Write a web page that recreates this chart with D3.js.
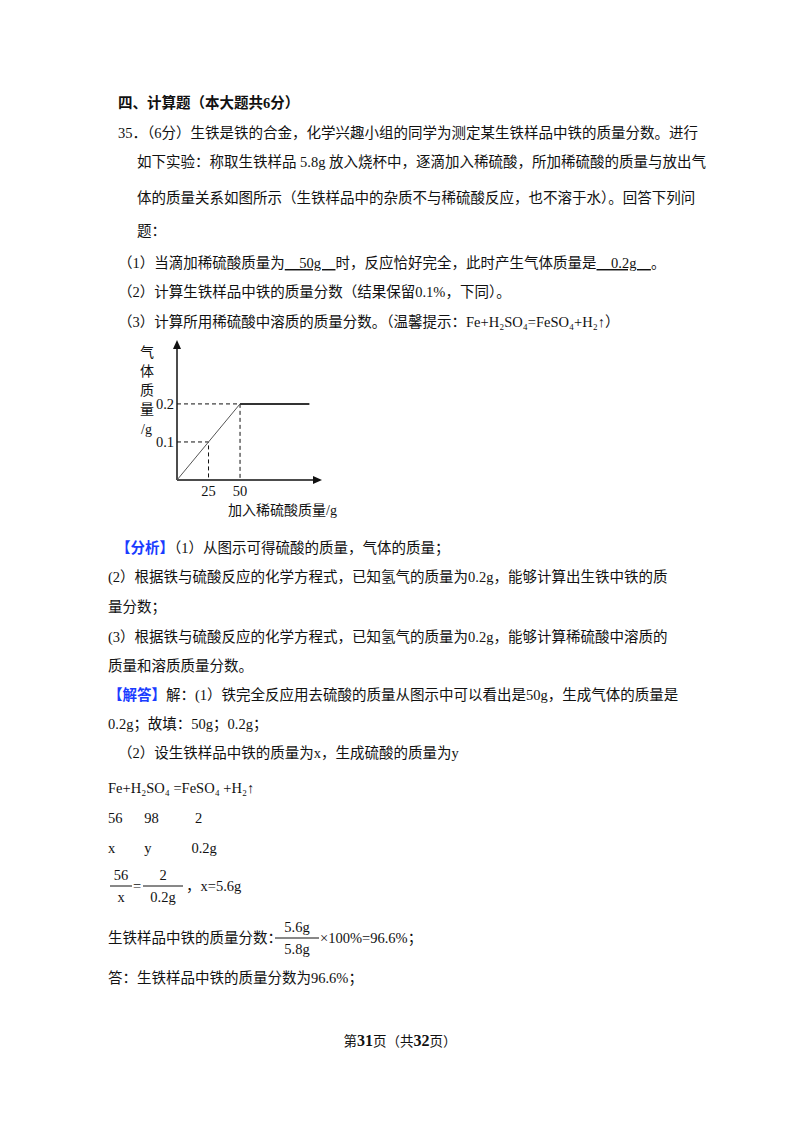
<!DOCTYPE html>
<html><head><meta charset="utf-8">
<script src="https://cdn.jsdelivr.net/npm/d3@7"></script>
<style>body{margin:0;background:#fff}text{font-family:"Liberation Serif","Noto Sans CJK SC",serif;fill:#111}</style>
</head><body>
<script>
// chart data
var points = [[0,0],[25,0.1],[50,0.2],[105,0.2]];
var xTicks = [25, 50];
var yTicks = [0.1, 0.2];

var svg = d3.select('body').append('svg').attr('width', 800).attr('height', 1132);

// page text: [x, y, text, options]
var lines = [
  [118,108,'四、计算题（本大题共6分）',{bold:true}],
  [118,138,'35．（6分）生铁是铁的合金，化学兴趣小组的同学为测定某生铁样品中铁的质量分数。进行'],
  [137,167,'如下实验：称取生铁样品 5.8g 放入烧杯中，逐滴加入稀硫酸，所加稀硫酸的质量与放出气'],
  [137,203,'体的质量关系如图所示（生铁样品中的杂质不与稀硫酸反应，也不溶于水）。回答下列问'],
  [137,236,'题：'],
  [118,268,'（1）当滴加稀硫酸质量为__50g__时，反应恰好完全，此时产生气体质量是__0.2g__。'],
  [118,297,'（2）计算生铁样品中铁的质量分数（结果保留0.1%，下同）。'],
  [118,327,'（3）计算所用稀硫酸中溶质的质量分数。（温馨提示：Fe+H₂SO₄=FeSO₄+H₂↑）'],
  [116,553,'【分析】（1）从图示可得硫酸的质量，气体的质量；',{tag:'【分析】'}],
  [108,582,'(2）根据铁与硫酸反应的化学方程式，已知氢气的质量为0.2g，能够计算出生铁中铁的质'],
  [108,612,'量分数；'],
  [108,642,'(3）根据铁与硫酸反应的化学方程式，已知氢气的质量为0.2g，能够计算稀硫酸中溶质的'],
  [108,671,'质量和溶质质量分数。'],
  [108,700,'【解答】解：(1）铁完全反应用去硫酸的质量从图示中可以看出是50g，生成气体的质量是',{tag:'【解答】'}],
  [108,729,'0.2g；故填：50g；0.2g；'],
  [118,758,'（2）设生铁样品中铁的质量为x，生成硫酸的质量为y'],
  [108,793,'Fe+H₂SO₄ =FeSO₄ +H₂↑'],
  [108,823,'56      98          2'],
  [108,853,'x        y           0.2g'],
  [108,943,'生铁样品中铁的质量分数：'],
  [108,983,'答：生铁样品中铁的质量分数为96.6%；']
];

lines.forEach(function(l){
  var t = svg.append('text').attr('x', l[0]).attr('y', l[1]).attr('font-size', 14.5)
    .attr('xml:space','preserve').style('white-space','pre');
  var o = l[3] || {};
  if (o.bold) t.attr('font-weight', 'bold');
  var s = l[2];
  if (o.tag) {
    t.append('tspan').style('fill', '#1a3cff').attr('font-weight','bold').text(o.tag);
    s = s.slice(o.tag.length);
  }
  // underline blanks marked __x__
  s.split(/(__[^_]+__)/).forEach(function(p){
    if (/^__/.test(p)) {
      t.append('tspan').attr('text-decoration','underline').text('\u00a0\u00a0\u00a0\u00a0' + p.slice(2,-2) + '\u00a0\u00a0\u00a0\u00a0');
    } else t.append('tspan').text(p);
  });
});

// fractions
function frac(x, y, num, den, w) {
  svg.append('text').attr('x', x + w/2).attr('y', y - 6).attr('text-anchor','middle').attr('font-size',14.5).text(num);
  svg.append('line').attr('x1', x).attr('x2', x + w).attr('y1', y).attr('y2', y).attr('stroke','#111');
  svg.append('text').attr('x', x + w/2).attr('y', y + 16).attr('text-anchor','middle').attr('font-size',14.5).text(den);
}
frac(110, 886, '56', 'x', 22);
svg.append('text').attr('x',133).attr('y',891).attr('font-size',14.5).text('=');
frac(143, 886, '2', '0.2g', 40);
svg.append('text').attr('x',186).attr('y',891).attr('font-size',14.5).text('，x=5.6g');
frac(275, 938, '5.6g', '5.8g', 44);
svg.append('text').attr('x',320).attr('y',943).attr('font-size',14.5).text('×100%=96.6%；');

// footer
var f = svg.append('text').attr('x',400).attr('y',1046).attr('text-anchor','middle').attr('font-size',13.5);
f.append('tspan').text('第');
f.append('tspan').attr('font-weight','bold').attr('font-size',16).text('31');
f.append('tspan').text('页（共');
f.append('tspan').attr('font-weight','bold').attr('font-size',16).text('32');
f.append('tspan').text('页）');

// chart
var x = d3.scaleLinear().domain([0, 115]).range([177, 322]);
var y = d3.scaleLinear().domain([0, 0.368]).range([480, 340]);
var g = svg.append('g').attr('font-size', 14.5);

g.append('line').attr('x1', x(0)).attr('x2', x(115) - 6).attr('y1', y(0)).attr('y2', y(0)).attr('stroke','#111').attr('stroke-width',1.5);
g.append('line').attr('x1', x(0)).attr('x2', x(0)).attr('y1', y(0)).attr('y2', y(0.368) + 6).attr('stroke','#111').attr('stroke-width',1.5);
g.append('path').attr('d', d3.line()([[x(115),y(0)],[x(115)-9,y(0)-4],[x(115)-9,y(0)+4]]) + 'Z').attr('fill','#111');
g.append('path').attr('d', d3.line()([[x(0),y(0.368)],[x(0)-4,y(0.368)+9],[x(0)+4,y(0.368)+9]]) + 'Z').attr('fill','#111');

points.slice(1,3).forEach(function(p){
  g.append('path').attr('d', d3.line()([[x(0),y(p[1])],[x(p[0]),y(p[1])],[x(p[0]),y(0)]]))
    .attr('fill','none').attr('stroke','#111').attr('stroke-dasharray','4,3');
});
g.append('path').attr('d', d3.line().x(function(d){return x(d[0]);}).y(function(d){return y(d[1]);})(points.slice(0,3)))
  .attr('fill','none').attr('stroke','#555').attr('stroke-width',1);
g.append('path').attr('d', d3.line().x(function(d){return x(d[0]);}).y(function(d){return y(d[1]);})(points.slice(2)))
  .attr('fill','none').attr('stroke','#333').attr('stroke-width',2);

xTicks.forEach(function(v){
  g.append('text').attr('x', x(v)).attr('y', y(0) + 16).attr('text-anchor','middle').text(v);
});
yTicks.forEach(function(v){
  g.append('text').attr('x', x(0) - 3).attr('y', y(v) + 5).attr('text-anchor','end').text(v);
});
['气','体','质','量'].forEach(function(c, i){
  g.append('text').attr('x', 140).attr('y', 357 + i * 19).attr('font-size', 14).text(c);
});
g.append('text').attr('x', 141).attr('y', 434).attr('font-size', 14).text('/g');
g.append('text').attr('x', 228).attr('y', 515).attr('font-size', 14).text('加入稀硫酸质量/g');
</script>
</body></html>
